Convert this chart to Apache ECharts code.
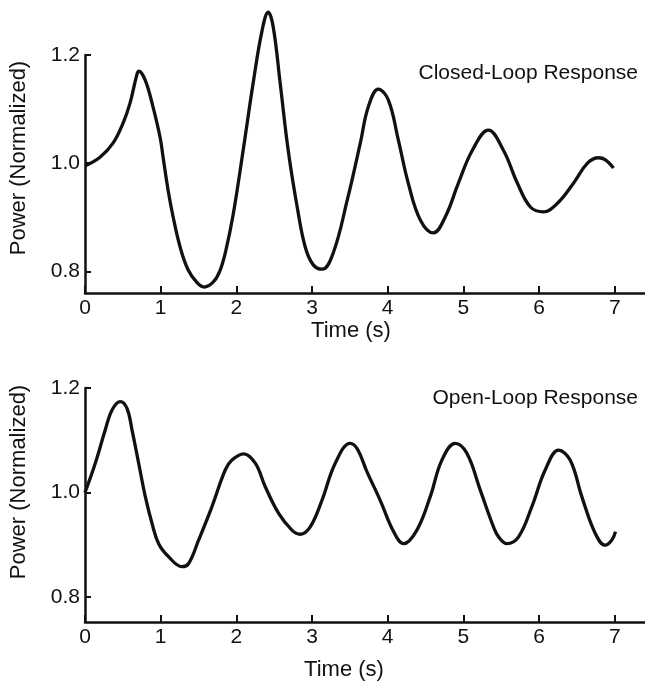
<!DOCTYPE html>
<html><head><meta charset="utf-8">
<script src="https://cdn.jsdelivr.net/npm/echarts@6/dist/echarts.min.js"></script>
<style>html,body{margin:0;padding:0;background:#fff}#c{width:645px;height:684px}</style>
</head><body><div id="c"></div>
<script>
// Closed-loop response (time s, normalized power)
const closedT = [0,0.198,0.37,0.503,0.595,0.688,0.714,0.794,0.886,0.992,1.032,1.098,1.164,1.257,1.362,1.481,1.574,1.693,1.78,1.86,1.958,2.09,2.222,2.341,2.421,2.487,2.579,2.685,2.804,2.91,3.016,3.135,3.28,3.466,3.638,3.743,3.876,4.008,4.14,4.272,4.431,4.603,4.762,4.934,5.119,5.331,5.529,5.714,5.886,6.058,6.243,6.455,6.64,6.786,6.878,6.984];
const closedP = [0.995,1.011,1.037,1.074,1.111,1.165,1.170,1.154,1.111,1.048,1.011,0.950,0.901,0.845,0.803,0.779,0.771,0.780,0.800,0.838,0.905,1.024,1.148,1.246,1.279,1.252,1.148,1.024,0.919,0.845,0.812,0.804,0.834,0.932,1.037,1.104,1.137,1.117,1.043,0.963,0.895,0.871,0.901,0.963,1.024,1.061,1.024,0.963,0.919,0.910,0.926,0.963,1.000,1.010,1.006,0.991];
// Open-loop response
const openT = [0,0.136,0.268,0.357,0.467,0.555,0.621,0.709,0.797,0.885,0.973,1.105,1.281,1.37,1.502,1.678,1.853,1.942,2.096,2.25,2.382,2.559,2.734,2.844,2.976,3.131,3.307,3.505,3.6,3.725,3.901,4.078,4.21,4.386,4.562,4.716,4.892,5.046,5.222,5.398,5.465,5.575,5.729,5.905,6.081,6.258,6.411,6.565,6.741,6.873,6.962,7.01];
const openP = [1.0,1.056,1.120,1.158,1.174,1.161,1.120,1.056,0.992,0.941,0.902,0.877,0.858,0.864,0.909,0.973,1.043,1.062,1.074,1.056,1.011,0.960,0.928,0.920,0.934,0.985,1.056,1.094,1.083,1.040,0.985,0.925,0.902,0.928,0.992,1.062,1.094,1.075,1.005,0.934,0.915,0.902,0.915,0.973,1.043,1.081,1.062,0.992,0.922,0.899,0.909,0.925];
const xTicks = [0,1,2,3,4,5,6,7];
const yTicks = [0.8,1.0,1.2];
const titles = ['Closed-Loop Response','Open-Loop Response'];
const xName = 'Time (s)';
const yName = 'Power (Normalized)';

const FONT = 'Liberation Sans';
const INK = '#111';
function pairs(t, p){ return t.map((v,i)=>[v,p[i]]); }
function xAxis(gi, gap, pad){
  return {type:'value', gridIndex:gi, min:0, max:7.4, name:xName, nameLocation:'middle', nameGap:gap,
    nameTextStyle:{fontFamily:FONT,fontSize:22,color:INK,padding:pad},
    axisLine:{show:true,onZero:false,lineStyle:{color:INK,width:2.5}},
    axisTick:{show:true,inside:true,length:7,customValues:xTicks,lineStyle:{color:INK,width:2}},
    axisLabel:{customValues:xTicks,fontFamily:FONT,fontSize:21,color:INK,margin:5},
    splitLine:{show:false}};
}
function yAxis(gi, min, pad){
  return {type:'value', gridIndex:gi, min:min, max:1.2, name:yName, nameLocation:'middle', nameGap:55, nameRotate:90,
    nameTextStyle:{fontFamily:FONT,fontSize:22,color:INK,padding:pad},
    axisLine:{show:true,onZero:false,lineStyle:{color:INK,width:2.5}},
    axisTick:{show:true,inside:true,length:6,customValues:yTicks,lineStyle:{color:INK,width:2}},
    axisLabel:{customValues:yTicks,formatter:v=>v.toFixed(1),fontFamily:FONT,fontSize:21,color:INK,margin:5},
    splitLine:{show:false}};
}
const chart = echarts.init(document.getElementById('c'), null, {renderer:'canvas'});
chart.setOption({
  animation:false,
  backgroundColor:'#fff',
  title:[
    {text:titles[0], right:2, top:58, textStyle:{fontFamily:FONT,fontSize:21,fontWeight:'normal',color:INK}},
    {text:titles[1], right:2, top:383, textStyle:{fontFamily:FONT,fontSize:21,fontWeight:'normal',color:INK}}
  ],
  grid:[
    {left:85, top:55, width:560, height:238},
    {left:83, top:388, width:562, height:234}
  ],
  xAxis:[xAxis(0,24,[0,28,0,0]), xAxis(1,37,[0,42,0,0])],
  yAxis:[yAxis(0,0.76,[0,0,0,32]), yAxis(1,0.752,[0,0,0,46])],
  series:[
    {type:'line', xAxisIndex:0, yAxisIndex:0, data:pairs(closedT,closedP), smooth:0.4, clip:false, showSymbol:false, lineStyle:{color:INK,width:3.3}},
    {type:'line', xAxisIndex:1, yAxisIndex:1, data:pairs(openT,openP), smooth:0.4, clip:false, showSymbol:false, lineStyle:{color:INK,width:3.3}}
  ]
});
</script></body></html>
